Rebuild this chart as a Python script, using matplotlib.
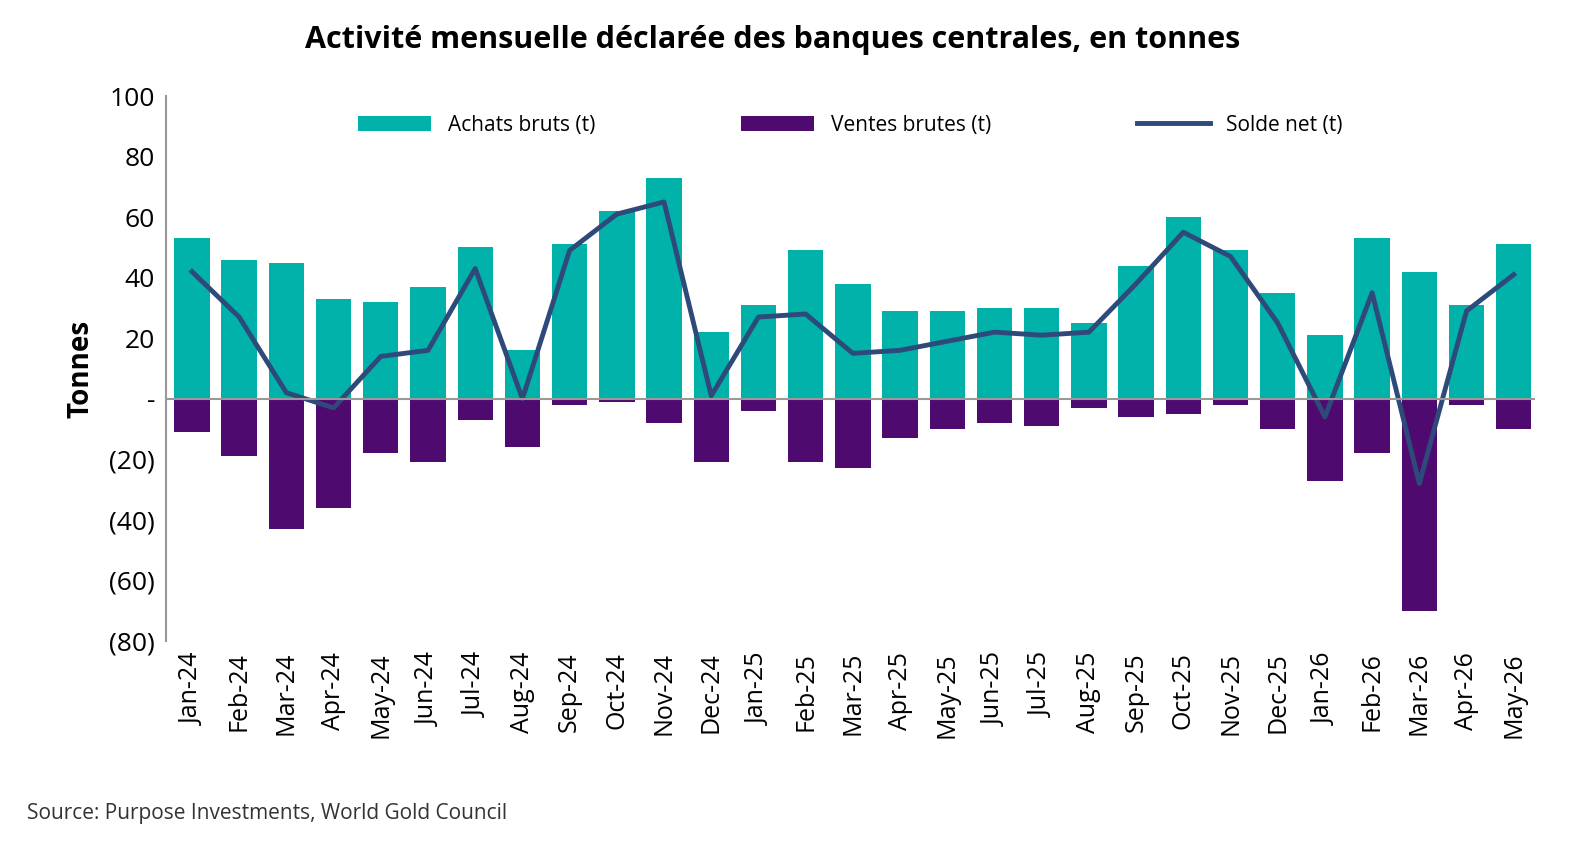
import matplotlib.pyplot as plt
import numpy as np

months = ["Jan-24", "Feb-24", "Mar-24", "Apr-24", "May-24", "Jun-24", "Jul-24", "Aug-24",
          "Sep-24", "Oct-24", "Nov-24", "Dec-24", "Jan-25", "Feb-25", "Mar-25", "Apr-25",
          "May-25", "Jun-25", "Jul-25", "Aug-25", "Sep-25", "Oct-25", "Nov-25", "Dec-25",
          "Jan-26", "Feb-26", "Mar-26", "Apr-26", "May-26"]
achats = [53, 46, 45, 33, 32, 37, 50, 16, 51, 62, 73, 22, 31, 49, 38, 29, 29, 30, 30, 25,
          44, 60, 49, 35, 21, 53, 42, 31, 51]
ventes = [-11, -19, -43, -36, -18, -21, -7, -16, -2, -1, -8, -21, -4, -21, -23, -13, -10, -8,
          -9, -3, -6, -5, -2, -10, -27, -18, -70, -2, -10]
solde = [42, 27, 2, -3, 14, 16, 43, 0, 49, 61, 65, 1, 27, 28, 15, 16, 19, 22, 21, 22,
         38, 55, 47, 25, -6, 35, -28, 29, 41]

plt.rcParams["font.family"] = ["Open Sans", "DejaVu Sans"]

fig = plt.figure(figsize=(15.94, 8.49), dpi=100)
ax = fig.add_axes([166 / 1594, 1 - 641 / 849, (1535 - 166) / 1594, 545 / 849])

x = np.arange(len(months))
b1 = ax.bar(x, achats, width=0.75, color="#00B2A9", label="Achats bruts (t)")
b2 = ax.bar(x, ventes, width=0.75, color="#4F0A70", label="Ventes brutes (t)")
l1, = ax.plot(x, solde, color="#2E4A7A", lw=3.5, label="Solde net (t)")
ax.axhline(0, color="#999999", lw=1.5)

ax.set_ylim(-80, 100)
ax.set_xlim(-0.55, len(months) - 0.55)
ticks = list(range(-80, 101, 20))
ax.set_yticks(ticks)
ax.set_yticklabels([f"({-t})" if t < 0 else ("-" if t == 0 else str(t)) for t in ticks], fontsize=19)
ax.set_xticks(x)
ax.set_xticklabels(months, rotation=90, fontsize=18)
ax.tick_params(length=0, pad=8)
for s in ["top", "right", "bottom"]:
    ax.spines[s].set_visible(False)
ax.spines["left"].set_color("#999999")
ax.spines["left"].set_linewidth(1.5)
ax.set_ylabel("Tonnes", fontsize=20, fontweight="bold", labelpad=10)

ax.legend([b1, b2, l1], ["Achats bruts (t)", "Ventes brutes (t)", "Solde net (t)"],
          loc="upper center", bbox_to_anchor=(0.5, 1.0), ncol=3, frameon=False,
          fontsize=15, columnspacing=7, handlelength=3.5)

fig.suptitle("Activité mensuelle déclarée des banques centrales, en tonnes",
             x=0.485, y=0.97, fontsize=22, fontweight="bold")
fig.text(0.017, 0.035, "Source: Purpose Investments, World Gold Council", fontsize=15, color="#333333")

fig.savefig("out.png", dpi=100)
